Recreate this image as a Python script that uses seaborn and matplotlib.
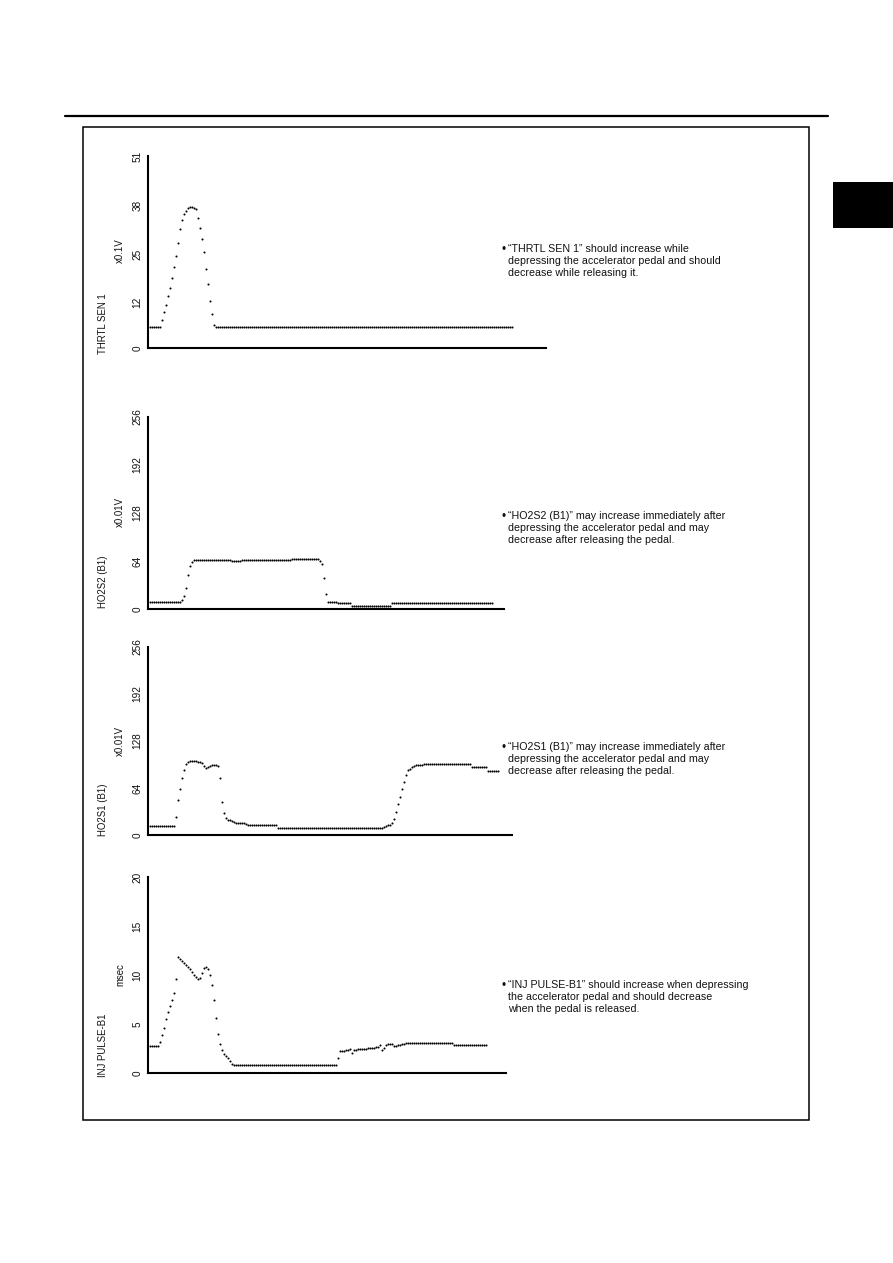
import matplotlib
matplotlib.use("Agg")
import matplotlib.pyplot as plt
import seaborn as sns
import numpy as np
import pandas as pd

# ---------------- data (one sample every time step) ----------------
thrtl_sen1 = ([5.5] * 6 +
              [7.5, 9.5, 11.5, 13.8, 16.0, 18.5, 21.5, 24.5, 28.0, 31.5, 34.0,
               35.5, 36.5, 37.2, 37.5, 37.5, 37.3, 36.8, 34.5, 32.0, 29.0, 25.5,
               21.0, 17.0, 12.5, 9.0, 6.0] +
              [5.5] * 149)

ho2s2_b1 = ([9] * 15 +
            [10, 12, 18, 28, 45, 58, 63] +
            [65] * 19 + [63.5] * 5 + [65.5] * 25 + [66.5] * 14 +
            [64, 60, 42, 20] +
            [10] * 5 + [7.5] * 7 + [4] * 20 + [7.5] * 51)

ho2s1_b1 = ([12.7] * 13 +
            [25, 48, 62, 77, 88, 97, 99.5] +
            [100.5, 101, 101, 100.5, 100, 99, 97.5] +
            [94, 91, 92.5, 94] +
            [95, 95.5, 95.5, 94.5] +
            [78, 45, 30, 23] +
            [21, 20, 19, 18] +
            [17, 17, 16.5, 16, 16, 15.5] +
            [13] * 15 + [10] * 27 + [9.5] * 26 +
            [11, 12, 13, 14] +
            [16, 22, 32, 42, 52, 62, 72, 82, 88, 90, 92] +
            [94, 95, 96, 96, 96] +
            [96.5] * 24 + [92] * 8 + [87] * 6)

inj_pulse_b1 = ([2.8] * 5 +
                [3.2, 3.9, 4.6, 5.5, 6.2, 6.8, 7.4, 8.2, 9.6, 11.8] +
                [11.6, 11.4, 11.2, 11.0, 10.8, 10.6, 10.3, 10.0, 9.8, 9.6] +
                [9.7, 10.2, 10.7, 10.8, 10.6, 10.0, 9.0, 7.4, 5.6, 4.0, 3.0] +
                [2.3, 1.9, 1.7, 1.5, 1.2, 0.9] +
                [0.85] * 52 +
                [1.5, 2.2] +
                [2.2, 2.25, 2.3, 2.35, 2.4] +
                [2.0] +
                [2.3, 2.35, 2.4, 2.4, 2.45, 2.5, 2.5, 2.55, 2.55, 2.6, 2.6, 2.65, 2.7] +
                [2.9, 2.3, 2.6, 2.85] +
                [3.0] * 3 + [2.8] * 2 +
                [2.85, 2.9, 3.0, 3.0] +
                [3.1] * 24 + [2.85] * 17)

names = ["THRTL SEN 1", "HO2S2 (B1)", "HO2S1 (B1)", "INJ PULSE-B1"]
units = ["x0.1V", "x0.01V", "x0.01V", "msec"]
series = [thrtl_sen1, ho2s2_b1, ho2s1_b1, inj_pulse_b1]
yticks = [[0, 12, 25, 38, 51], [0, 64, 128, 192, 256], [0, 64, 128, 192, 256], [0, 5, 10, 15, 20]]
ymax = [51, 256, 256, 20]
notes = [
    "“THRTL SEN 1” should increase while\ndepressing the accelerator pedal and should\ndecrease while releasing it.",
    "“HO2S2 (B1)” may increase immediately after\ndepressing the accelerator pedal and may\ndecrease after releasing the pedal.",
    "“HO2S1 (B1)” may increase immediately after\ndepressing the accelerator pedal and may\ndecrease after releasing the pedal.",
    "“INJ PULSE-B1” should increase when depressing\nthe accelerator pedal and should decrease\nwhen the pedal is released.",
]

# ---------------- layout (pixels) ----------------
W, H = 893, 1263
sns.set_style("white")
plt.rcParams['font.family'] = ['Liberation Sans', 'DejaVu Sans']

fig = plt.figure(figsize=(W / 100, H / 100), dpi=100)
fig.patch.set_facecolor("white")

# left, right, top, bottom of each axes in pixels
rects = [(148, 546, 156, 348), (148, 504, 417, 609), (148, 512, 647, 835), (148, 506, 877, 1073)]
name_y = [324, 582, 810, 1045]
unit_y = [251, 512, 741, 975]
note_y = [249, 516, 747, 985]

def fx(x):
    return x / W

def fy(y):
    return 1 - y / H

for k in range(4):
    l, r, t, b = rects[k]
    ax = fig.add_axes([fx(l), fy(b), (r - l) / W, (b - t) / H])
    vals = series[k]
    df = pd.DataFrame({"t": np.arange(len(vals)), "v": vals})
    sns.scatterplot(data=df, x="t", y="v", ax=ax, s=2.2, color="black",
                    linewidth=0, edgecolor=None, legend=False)
    ax.set_xlim(-1, (r - 150) / 2)
    ax.set_ylim(0, ymax[k])
    ax.set_xticks([])
    ax.set_yticks(yticks[k])
    ax.set_yticklabels([str(v) for v in yticks[k]], rotation=90, va="center",
                       fontsize=7.2, color="#111111")
    ax.set_yticks([ymax[k]], minor=True)
    ax.tick_params(axis="y", which="major", length=0, pad=4.0)
    ax.tick_params(axis="y", which="minor", length=3, width=1.5, color="black")
    ax.set_xlabel("")
    ax.set_ylabel("")
    for side in ["top", "right"]:
        ax.spines[side].set_visible(False)
    for side in ["left", "bottom"]:
        ax.spines[side].set_linewidth(1.5)
        ax.spines[side].set_color("black")
    ax.set_facecolor("none")

    fig.text(fx(103), fy(name_y[k]), names[k], rotation=90, ha="center", va="center",
             fontsize=6.9, color="#111111")
    fig.text(fx(120), fy(unit_y[k]), units[k], rotation=90, ha="center", va="center",
             fontsize=6.9, color="#111111")
    fig.text(fx(501), fy(note_y[k] + 1), "•", ha="left", va="center", fontsize=8.5, color="#111111")
    fig.text(fx(508), fy(note_y[k] - 5), notes[k], ha="left", va="top", fontsize=7.7,
             color="#111111", linespacing=1.22)

# page decorations
fig.add_artist(plt.Line2D([fx(65), fx(828)], [fy(116), fy(116)], transform=fig.transFigure,
                          color="black", linewidth=1.6))
fig.add_artist(plt.Rectangle((fx(83), fy(1120)), (809 - 83) / W, (1120 - 127) / H,
                             transform=fig.transFigure, fill=False, edgecolor="black", linewidth=1.1))
fig.add_artist(plt.Rectangle((fx(833), fy(228)), (893 - 833) / W, (228 - 182) / H,
                             transform=fig.transFigure, facecolor="black", edgecolor="none"))

fig.savefig("out.png", dpi=100, facecolor="white")
